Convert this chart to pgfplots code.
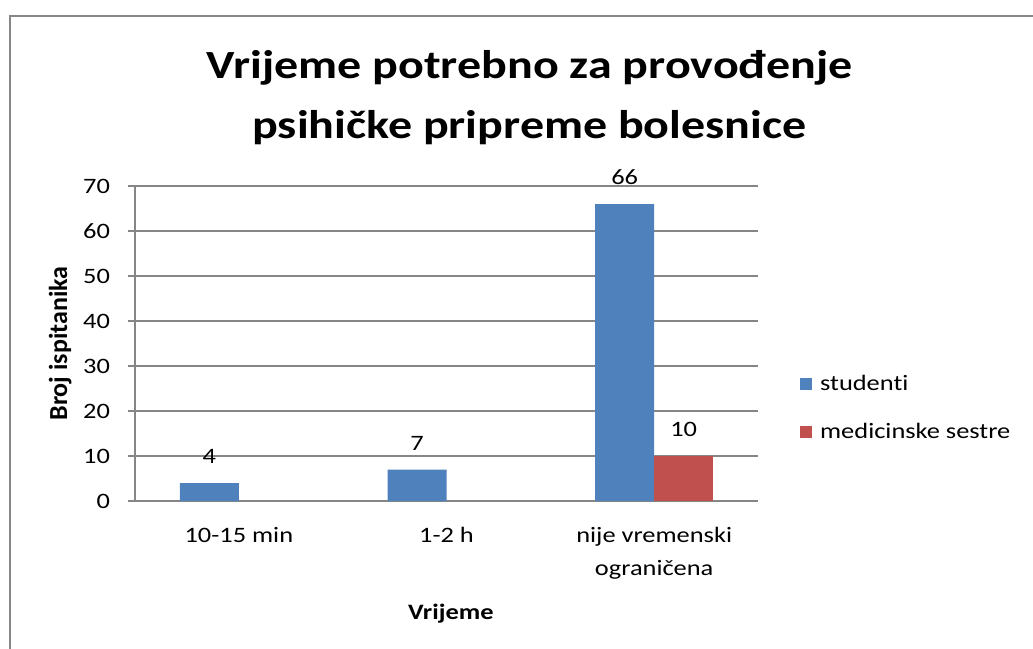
\documentclass[border=0pt]{standalone}
\usepackage{pgfplots}
\pgfplotsset{compat=1.18}
\usepackage{fontspec}
\setmainfont{Carlito}[FakeStretch=1.2, Ligatures=NoCommon]
\newfontfamily\plainfont{Carlito}[Ligatures=NoCommon]
\definecolor{cblue}{HTML}{4F81BD}
\definecolor{cred}{HTML}{C0504D}
\definecolor{cgrid}{HTML}{868686}
\definecolor{cborder}{HTML}{878787}
\begin{document}
\begin{tikzpicture}
\path[use as bounding box] (0pt,0pt) rectangle (516.5pt,324pt);
\fill[white] (0pt,0pt) rectangle (516.5pt,324pt);
\draw[cborder, line width=1pt] (4.75pt,-5pt) -- (4.75pt,316pt) -- (530pt,316pt);
\node[anchor=base, font=\fontsize{20}{24}\selectfont\bfseries] at (264.75pt,284.5pt) {Vrijeme potrebno za provođenje};
\node[anchor=base, font=\fontsize{20}{24}\selectfont\bfseries] at (264.75pt,254.5pt) {psihičke pripreme bolesnice};
\begin{axis}[
  at={(67.5pt,73.5pt)}, anchor=south west,
  scale only axis, width=311.5pt, height=157.5pt,
  ybar=0pt, bar width=29.5pt,
  xmin=-0.5, xmax=2.5, ymin=0, ymax=70,
  ytick={0,10,...,70},
  xtick=data,
  xticklabels={10-15 min, 1-2 h, {nije vremenski\\ograničena}},
  axis x line*=bottom, axis y line*=left,
  axis line style={cgrid, line width=0.75pt, -},
  ymajorgrids, grid style={cgrid, line width=0.75pt},
  tick align=outside, major tick length=3.5pt,
  ytick style={cgrid, line width=0.75pt},
  xtick style={draw=none},
  /pgf/number format/assume math mode=true,
  tick label style={font=\fontsize{11}{16.5}\selectfont, black},
  yticklabel style={xshift=-5.5pt},
  xticklabel style={align=center, anchor=north, yshift=-6pt},
  ylabel={Broj ispitanika},
  ylabel style={at={(axis description cs:-0.120,0.5)}, anchor=center, font=\plainfont\fontsize{13}{15}\selectfont\bfseries},
  xlabel={Vrijeme},
  xlabel style={at={(axis description cs:0.507,-0.358)}, anchor=center, font=\fontsize{11}{13}\selectfont\bfseries},
  nodes near coords,
  every node near coord/.append style={font=\fontsize{11}{13}\selectfont, black, anchor=south, inner sep=0pt, yshift=9.5pt},
  legend style={at={(axis description cs:1.067,0.295)}, anchor=west, draw=none, fill=none,
    font=\fontsize{11}{13}\selectfont, row sep=11pt, inner sep=0pt,
    cells={anchor=west}},
  legend image code/.code={\fill[#1] (0pt,-3pt) rectangle (6pt,3pt); \path (8pt,0pt);},
]
\addplot[fill=cblue, draw=none] coordinates {(0,4) (1,7) (2,66)};
\addplot[fill=cred, draw=none] coordinates {(2,10)};
\legend{studenti, medicinske sestre}
\end{axis}
\end{tikzpicture}
\end{document}
